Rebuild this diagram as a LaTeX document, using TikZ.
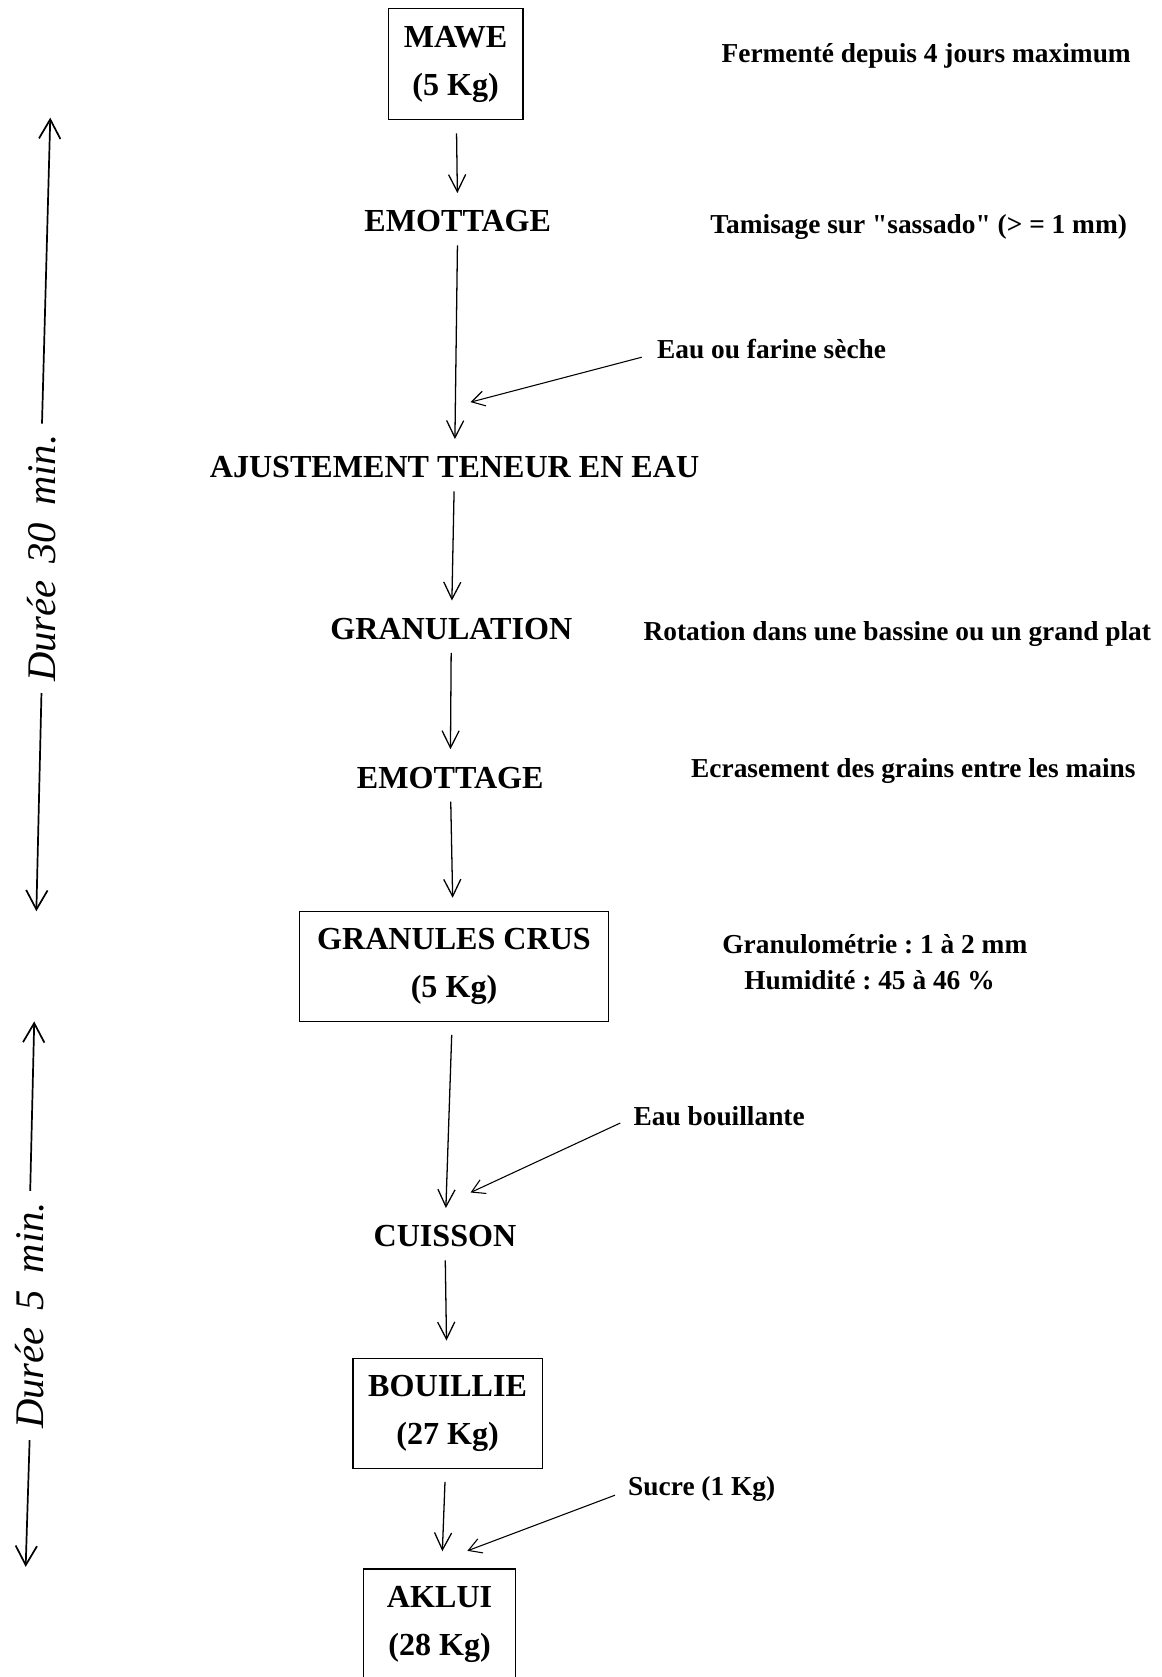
\documentclass[tikz,border=0pt]{standalone}
\usepackage{fontspec}
\setmainfont{Liberation Serif}
\newfontfamily\rawserif{Liberation Serif}
\usetikzlibrary{arrows.meta}
\frenchspacing
\newcommand{\sq}{{\rawserif\bfseries"}}
\begin{document}
\begin{tikzpicture}[x=0.5pt,y=-0.5pt,
  mainlbl/.style={font=\fontsize{15}{22.5}\selectfont\bfseries, inner sep=0pt, align=center},
  boxnode/.style={mainlbl, draw, line width=0.6pt},
  side/.style={font=\fontsize{12.8}{15}\selectfont\bfseries, inner sep=0pt},
  arr/.style={-{Straight Barb[length=8pt,width=8pt]}, line width=0.6pt, shorten <=6pt, shorten >=8pt},
  sarr/.style={-{Straight Barb[length=6pt,width=7pt]}, line width=0.5pt},
  larr/.style={-{Straight Barb[length=9pt,width=10pt]}, line width=0.8pt, shorten <=5pt},
  dur/.style={font=\fontsize{19}{19}\selectfont\itshape, rotate=90, inner sep=0pt}
]
\useasboundingbox (0,0) rectangle (1086,1568);
\clip (0,0) rectangle (1086,1568);

% main column
\node[boxnode, minimum width=63pt, minimum height=52pt] (mawe) at (426,60) {MAWE\\(5 Kg)};
\node[mainlbl] (emo1) at (428,207) {EMOTTAGE};
\node[mainlbl] (ajust) at (425,437) {AJUSTEMENT TENEUR EN EAU};
\node[mainlbl] (granu) at (422,588) {GRANULATION};
\node[mainlbl] (emo2) at (421,727) {EMOTTAGE};
\node[boxnode, minimum width=144.5pt, minimum height=51.5pt] (crus) at (424.5,903.5) {GRANULES CRUS\\(5 Kg)};
\node[mainlbl] (cuis) at (416,1156) {CUISSON};
\node[boxnode, minimum width=88.5pt, minimum height=51.5pt] (bouil) at (418.5,1321.5) {BOUILLIE\\(27 Kg)};
\node[boxnode, minimum width=71pt, minimum height=52pt] (aklui) at (411,1519) {AKLUI\\(28 Kg)};

\draw[arr] (mawe) -- (emo1);
\draw[arr] (emo1) -- (ajust);
\draw[arr] (ajust) -- (granu);
\draw[arr] (granu) -- (emo2);
\draw[arr, shorten >=6pt] (emo2) -- (crus);
\draw[arr] (crus) -- (cuis);
\draw[arr] (cuis) -- (bouil);
\draw[arr] (bouil) -- (aklui);

% side notes
\node[side] (ferm) at (866,52) {Fermenté depuis 4 jours maximum};
\node[side] (tami) at (859,212) {Tamisage sur \sq sassado\sq\ (> = 1 mm)};
\node[side, anchor=west] (eauf) at (614,326) {Eau ou farine sèche};
\node[side] (rota) at (839,593) {Rotation dans une bassine ou un grand plat};
\node[side] (ecra) at (854,721) {Ecrasement des grains entre les mains};
\node[side] (gran) at (818,883) {Granulométrie : 1 à 2 mm};
\node[side] (humi) at (813,916) {Humidité : 45 à 46 \%};
\node[side, anchor=west] (eaub) at (592,1044) {Eau bouillante};
\node[side, anchor=west] (sucr) at (587,1392) {Sucre (1 Kg)};

\coordinate (c1) at (440,376);
\coordinate (c2) at (440,1115);
\coordinate (c3) at (437,1450);
\draw[sarr] ([xshift=-7pt,yshift=-4pt]eauf.west) -- (c1);
\draw[sarr] ([xshift=-6pt,yshift=-3pt]eaub.west) -- (c2);
\draw[sarr] ([xshift=-6pt,yshift=-3pt]sucr.west) -- (c3);

% durations
\node[dur] (d30) at (39,522) {Durée\, 30\, min.};
\coordinate (t1) at (47,110);
\coordinate (b1) at (34,852);
\draw[larr] (d30.east) -- (t1);
\draw[larr] (d30.west) -- (b1);

\node[dur] (d5) at (28,1230) {Durée\, 5\, min.};
\coordinate (t2) at (32,955);
\coordinate (b2) at (24,1465);
\draw[larr] (d5.east) -- (t2);
\draw[larr] (d5.west) -- (b2);
\end{tikzpicture}
\end{document}
